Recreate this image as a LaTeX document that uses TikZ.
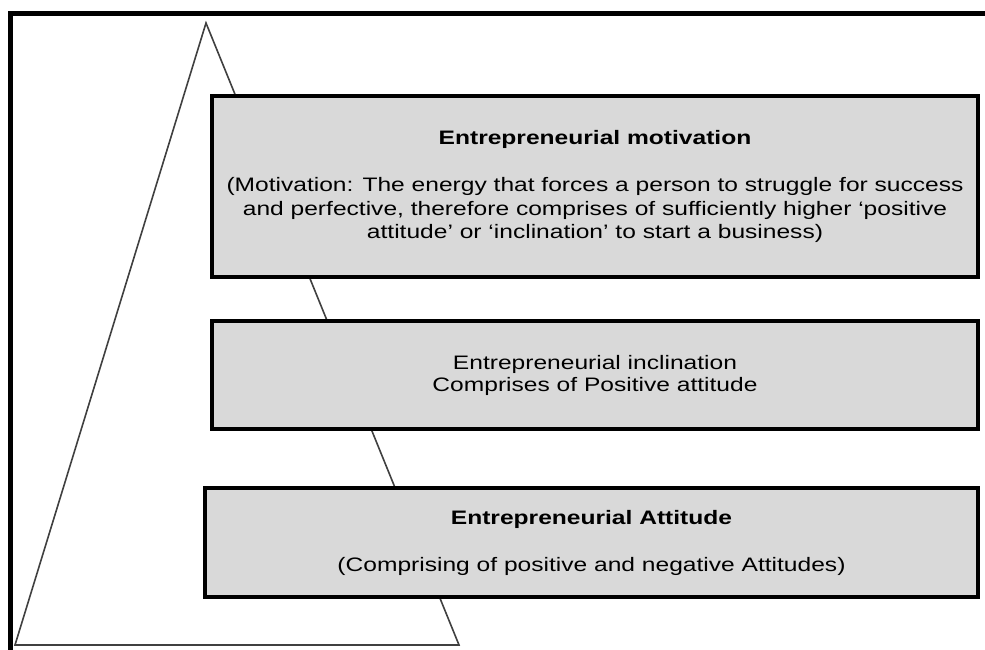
\documentclass[tikz,border=0pt]{standalone}
\usepackage{fontspec}
\setmainfont{Liberation Sans}
\newfontfamily\tierfont[FakeStretch=1.26]{Liberation Sans}
\usepackage{xcolor}
\usetikzlibrary{positioning}
\definecolor{boxgrey}{HTML}{D9D9D9}
\tikzset{
    tier/.style={
        draw,
        rectangle,
        fill=boxgrey,
        line width=4pt,
        align=center,
        inner sep=0pt,
        font=\tierfont\fontsize{19.5}{23.5}\selectfont
    },
    pyramid/.style={
        draw=black!75,
        line width=1.6pt,
        line join=miter
    }
}

\begin{document}
\begin{tikzpicture}[x=1pt, y=1pt]
    \useasboundingbox (0,0) rectangle (985,650);
    \clip (0,0) rectangle (985,650);
    % Frame
    \draw[line width=5pt] (10,-20) rectangle (1010,636);

    % Pyramid behind the tiers
    \coordinate (apex) at (206,627);
    \coordinate (baseL) at (15,5);
    \coordinate (baseR) at (459,5);
    \draw[pyramid] (apex) -- (baseR) -- (baseL) -- cycle;

    % Tiers - top to bottom
    \node[tier, minimum width=766, minimum height=181] (motivation) at (595,463.5)
        {\textbf{Entrepreneurial motivation}\\[23.5pt]
        (Motivation: The energy that forces a person to struggle for success\\
        and perfective, therefore comprises of sufficiently higher ‘positive\\
        attitude’ or ‘inclination’ to start a business)};
    \node[tier, minimum width=766, minimum height=108] (inclination) at (595,275)
        {Entrepreneurial inclination\\[-1.5pt]
        Comprises of Positive attitude};
    \node[tier, minimum width=773, minimum height=109] (attitude) at (591.5,107.5)
        {\textbf{Entrepreneurial Attitude}\\[23.5pt]
        (Comprising of positive and negative Attitudes)};
\end{tikzpicture}
\end{document}
